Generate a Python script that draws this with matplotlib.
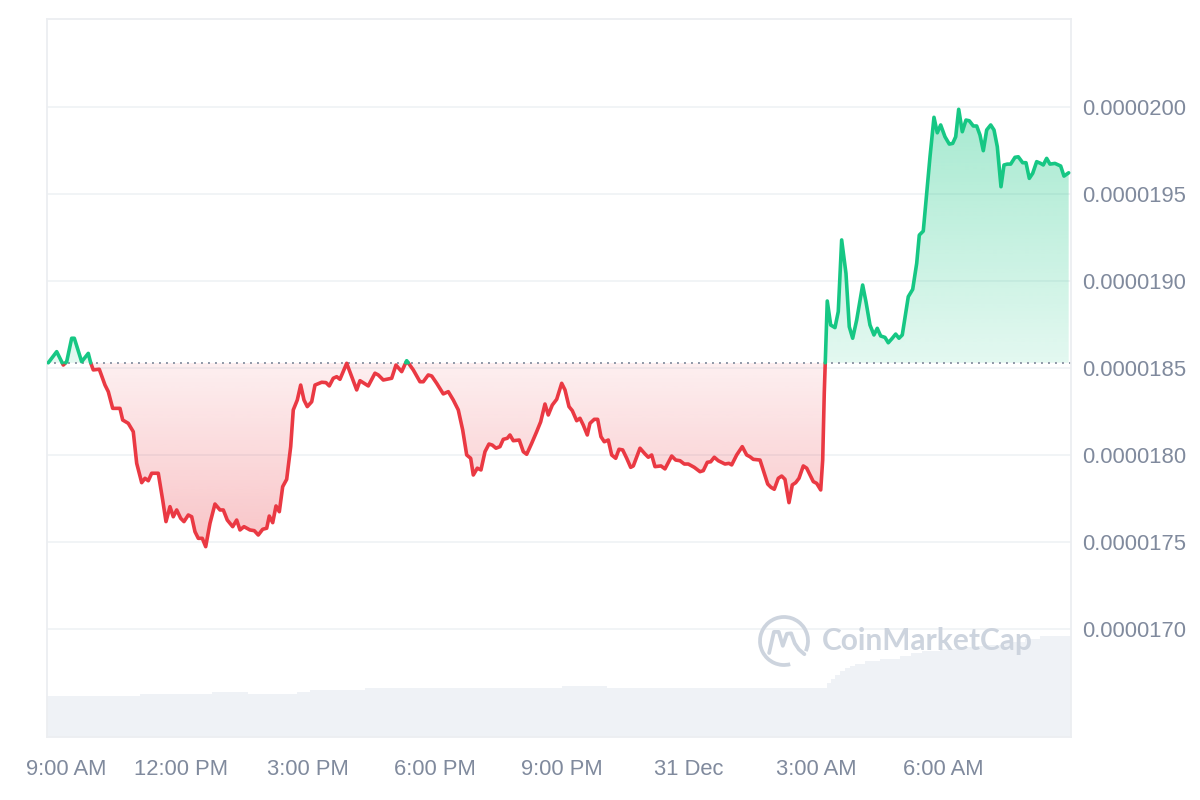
import numpy as np
import matplotlib
matplotlib.use("Agg")
import matplotlib.pyplot as plt
import matplotlib.transforms as mtransforms
from matplotlib.patches import Arc

# price. time = hours after 9:00 AM (30 Dec), price in 1e-8 units
times_h = [
    -0.135, 0.064, 0.220, 0.300, 0.418, 0.480, 0.654, 0.810, 0.867, 0.928,
    1.070, 1.205, 1.283, 1.387, 1.559, 1.623, 1.755, 1.873, 1.954, 2.072,
    2.150, 2.228, 2.308, 2.464, 2.568, 2.646, 2.740, 2.818, 2.899, 2.993,
    3.071, 3.173, 3.253, 3.331, 3.409, 3.503, 3.584, 3.685, 3.803, 3.922,
    4.000, 4.094, 4.222, 4.316, 4.394, 4.489, 4.630, 4.732, 4.826, 4.930,
    5.025, 5.086, 5.167, 5.245, 5.323, 5.403, 5.497, 5.592, 5.653, 5.748,
    5.828, 5.906, 5.984, 6.088, 6.166, 6.324, 6.426, 6.504, 6.598, 6.679,
    6.756, 6.915, 7.033, 7.151, 7.229, 7.425, 7.583, 7.661, 7.779, 7.978,
    8.079, 8.214, 8.332, 8.488, 8.646, 8.724, 8.842, 8.923, 9.041, 9.197,
    9.315, 9.433, 9.551, 9.655, 9.750, 9.844, 9.906, 10.000, 10.087, 10.182,
    10.276, 10.354, 10.442, 10.536, 10.614, 10.709, 10.772, 10.850, 10.992, 11.087,
    11.167, 11.285, 11.403, 11.498, 11.599, 11.677, 11.772, 11.876, 11.994, 12.072,
    12.167, 12.244, 12.348, 12.426, 12.504, 12.599, 12.662, 12.764, 12.844, 12.922,
    13.000, 13.095, 13.175, 13.270, 13.348, 13.435, 13.530, 13.624, 13.686, 13.844,
    13.962, 14.040, 14.120, 14.198, 14.340, 14.434, 14.593, 14.687, 14.789, 14.890,
    14.985, 15.126, 15.261, 15.339, 15.434, 15.514, 15.599, 15.694, 15.852, 15.946,
    16.010, 16.128, 16.260, 16.364, 16.442, 16.520, 16.679, 16.780, 16.861, 16.939,
    17.016, 17.111, 17.191, 17.269, 17.364, 17.442, 17.522, 17.600, 17.702, 17.782,
    17.938, 18.018, 18.113, 18.160, 18.197, 18.268, 18.349, 18.450, 18.528, 18.608,
    18.710, 18.788, 18.868, 18.963, 19.104, 19.182, 19.277, 19.371, 19.449, 19.530,
    19.631, 19.709, 19.804, 19.884, 19.962, 20.040, 20.182, 20.286, 20.381, 20.442,
    20.536, 20.617, 20.695, 20.789, 20.867, 20.947, 21.049, 21.151, 21.231, 21.302,
    21.373, 21.458, 21.545, 21.623, 21.718, 21.798, 21.876, 21.954, 22.034, 22.129,
    22.207, 22.285, 22.372, 22.443, 22.521, 22.601, 22.703, 22.781, 22.884, 22.963,
    23.041, 23.121, 23.215, 23.310, 23.371, 23.451, 23.529, 23.647, 23.782, 23.860,
    23.971,
]
price_e8 = [
    1853.0, 1859.4, 1851.7, 1853.6, 1867.1, 1867.1, 1853.6, 1858.4, 1853.0, 1848.9,
    1849.3, 1840.2, 1836.4, 1826.8, 1826.8, 1820.1, 1818.2, 1813.4, 1795.2, 1784.1,
    1786.6, 1785.2, 1789.5, 1789.5, 1774.1, 1761.7, 1770.3, 1764.5, 1768.4, 1763.6,
    1761.7, 1765.5, 1764.5, 1755.9, 1752.1, 1752.1, 1747.3, 1760.7, 1771.8, 1768.4,
    1768.4, 1762.6, 1758.8, 1762.6, 1756.9, 1758.8, 1756.9, 1756.5, 1754.0, 1757.3,
    1757.9, 1764.9, 1761.1, 1770.7, 1767.4, 1781.8, 1786.0, 1804.8, 1825.9, 1831.6,
    1840.2, 1831.6, 1827.8, 1830.6, 1840.2, 1841.8, 1841.6, 1839.7, 1844.1, 1845.0,
    1843.5, 1852.7, 1845.0, 1837.4, 1842.7, 1839.7, 1847.0, 1846.0, 1843.1, 1844.1,
    1851.7, 1847.9, 1854.2, 1848.9, 1842.1, 1842.1, 1846.0, 1845.4, 1841.2, 1835.1,
    1836.4, 1831.6, 1825.9, 1814.4, 1800.0, 1798.1, 1788.5, 1792.4, 1791.4, 1801.9,
    1806.3, 1805.7, 1803.9, 1804.8, 1809.0, 1809.6, 1811.5, 1808.2, 1808.6, 1801.9,
    1800.4, 1806.7, 1813.4, 1819.1, 1829.3, 1823.0, 1828.7, 1832.0, 1841.2, 1837.4,
    1827.8, 1825.5, 1819.7, 1821.1, 1817.2, 1811.5, 1818.2, 1820.5, 1820.5, 1810.5,
    1807.6, 1808.6, 1800.0, 1798.1, 1803.3, 1802.9, 1798.1, 1792.9, 1793.7, 1803.9,
    1800.6, 1798.7, 1800.0, 1793.3, 1793.7, 1792.0, 1799.4, 1797.1, 1796.7, 1794.8,
    1794.8, 1792.9, 1790.4, 1791.0, 1795.8, 1796.1, 1798.7, 1796.7, 1794.8, 1795.2,
    1794.3, 1800.0, 1804.8, 1800.0, 1799.0, 1797.5, 1797.1, 1789.5, 1783.3, 1781.4,
    1780.3, 1786.6, 1787.9, 1786.0, 1772.6, 1782.8, 1784.1, 1786.6, 1793.7, 1792.4,
    1784.7, 1783.7, 1779.9, 1797.1, 1835.5, 1888.5, 1874.7, 1873.2, 1882.4, 1923.6,
    1904.4, 1873.7, 1867.1, 1877.6, 1897.7, 1888.1, 1874.7, 1869.0, 1872.8, 1868.4,
    1867.6, 1864.5, 1867.1, 1869.5, 1867.1, 1869.0, 1891.0, 1895.2, 1910.2, 1926.4,
    1928.7, 1950.4, 1971.4, 1994.1, 1985.2, 1989.7, 1982.9, 1978.7, 1979.1, 1982.9,
    1998.7, 1985.8, 1992.5, 1992.1, 1989.1, 1989.1, 1983.9, 1974.9, 1986.8, 1989.7,
    1986.8, 1977.2, 1954.2, 1966.7, 1967.2, 1967.2, 1971.1, 1971.4, 1968.0, 1968.0,
    1959.0, 1961.9, 1968.6, 1967.6, 1966.7, 1970.5, 1967.2, 1967.6, 1966.1, 1960.3,
    1962.2,
]

# volume (steps), start hour of each step and level (arbitrary units)
vol_t = [-0.165, 2.03, 3.73, 4.58, 5.74, 6.05, 7.35, 12.0, 13.06, 18.26, 18.35, 18.45,
         18.57, 18.69, 18.8, 18.92, 19.16, 19.51, 19.99, 20.25, 20.5, 20.93, 21.4, 21.7,
         21.99, 22.47, 22.94, 23.29, 24.03]
vol = [4.1, 4.3, 4.5, 4.3, 4.5, 4.7, 4.9, 5.1, 4.9, 5.4, 5.8, 6.2,
       6.6, 6.9, 7.1, 7.3, 7.6, 7.8, 8.1, 8.4, 8.6, 8.8, 9.0, 9.1,
       9.2, 9.5, 9.8, 10.1, 10.1]
vol_axis_top = 71.8

tick_hours = [0, 3, 6, 9, 12, 15, 18, 21]
tick_labels = ["9:00 AM", "12:00 PM", "3:00 PM", "6:00 PM", "9:00 PM", "31 Dec", "3:00 AM", "6:00 AM"]
y_ticks_e8 = [1700, 1750, 1800, 1850, 1900, 1950, 2000]

GREEN = "#16c784"
RED = "#ea3943"
GREY = "#808a9d"

t = np.array(times_h)
p = np.array(price_e8) * 1e-8
base = p[0]

# insert crossing points so the colour switches exactly on the baseline
tt, pp = [t[0]], [p[0]]
for i in range(1, len(t)):
    a, b = p[i - 1] - base, p[i] - base
    if a * b < 0:
        tt.append(t[i - 1] + (t[i] - t[i - 1]) * a / (a - b))
        pp.append(base)
    tt.append(t[i])
    pp.append(p[i])
tt = np.array(tt)
pp = np.array(pp)

plt.rcParams['font.family'] = ['Liberation Sans', 'DejaVu Sans']

fig = plt.figure(figsize=(12, 8), dpi=100)
ax = fig.add_axes([47 / 1200, 63 / 800, 1024 / 1200, 718 / 800])

x0, x1 = -0.165, 24.026
y0, y1 = 1637.9e-8, 2050.6e-8

# volume in the bottom of the chart
ax.fill_between(vol_t, 0, np.array(vol) / vol_axis_top, step="post",
                transform=ax.get_xaxis_transform(), color="#eff2f6", lw=0, zorder=0.5)


def grad_fill(lo, hi, rgb, a_lo, a_hi, v_lo, v_hi):
    poly = ax.fill_between(tt, lo, hi, facecolor="none", edgecolor="none")
    g = np.zeros((256, 1, 4))
    g[..., :3] = matplotlib.colors.to_rgb(rgb)
    g[:, 0, 3] = np.linspace(a_lo, a_hi, 256)
    im = ax.imshow(g, aspect="auto", origin="lower", interpolation="bilinear",
                   extent=[tt[0], tt[-1], v_lo, v_hi], zorder=1)
    im.set_clip_path(poly.get_paths()[0], transform=ax.transData)


grad_fill(base, np.maximum(pp, base), GREEN, 0.12, 0.38, base, pp.max())
grad_fill(np.minimum(pp, base), base, RED, 0.30, 0.08, pp.min(), base)

ax.axhline(base, color="#8e97a7", lw=1.4, linestyle=(0, (1, 2.6)), zorder=2)

up = np.where(pp >= base, pp, np.nan)
down = np.where(pp <= base, pp, np.nan)
ax.plot(tt, down, color=RED, lw=2.6, solid_joinstyle="round", solid_capstyle="round", zorder=3)
ax.plot(tt, up, color=GREEN, lw=2.6, solid_joinstyle="round", solid_capstyle="round", zorder=3)

ax.set_xlim(x0, x1)
ax.set_ylim(y0, y1)

ax.set_yticks(np.array(y_ticks_e8) * 1e-8)
ax.set_yticklabels(["%.7f" % (v * 1e-8) for v in y_ticks_e8])
ax.yaxis.tick_right()
ax.set_xticks(tick_hours)
ax.set_xticklabels(tick_labels)
ax.tick_params(axis="y", length=0, pad=8, labelsize=15.8, labelcolor=GREY)
ax.tick_params(axis="x", length=0, pad=16, labelsize=15.8, labelcolor=GREY)
ax.grid(axis="y", color="#eff2f5", lw=1.2)
ax.set_axisbelow(True)
for s in ax.spines.values():
    s.set_color("#eceef1")
    s.set_linewidth(1.3)

# first label sits inside the figure
lbl = ax.get_xticklabels()[0]
lbl.set_transform(lbl.get_transform() + mtransforms.ScaledTranslation(0.12, 0, fig.dpi_scale_trans))

# watermark
wm = "#cdd4de"
lax = fig.add_axes([(784 - 30) / 1200, (800 - 671) / 800, 60 / 1200, 60 / 800])
lax.set_xlim(-1.25, 1.25)
lax.set_ylim(-1.25, 1.25)
lax.axis("off")
lax.add_patch(Arc((0, 0), 2, 2, theta1=-25, theta2=285, color=wm, lw=2.7))
lax.plot([-0.62, -0.42, -0.22, -0.05, 0.12, 0.3, 0.45, 0.62, 0.85],
         [-0.5, 0.38, 0.38, -0.2, 0.3, 0.32, -0.1, -0.35, -0.55],
         color=wm, lw=2.7, solid_joinstyle="round", solid_capstyle="round")
fig.text(822 / 1200, 1 - 641 / 800, "CoinMarketCap", color=wm, fontsize=21.5,
         fontweight="bold", family=["Lato", "DejaVu Sans"], va="center", ha="left")

fig.savefig("out.png", dpi=100)
